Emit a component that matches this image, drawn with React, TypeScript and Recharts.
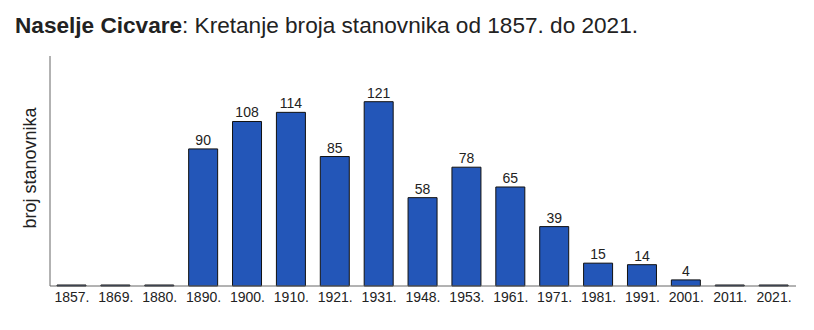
import { Bar, BarChart, LabelList, XAxis, YAxis } from "recharts";

const years = [
  "1857.", "1869.", "1880.", "1890.", "1900.", "1910.", "1921.", "1931.",
  "1948.", "1953.", "1961.", "1971.", "1981.", "1991.", "2001.", "2011.", "2021.",
];
const population = [0, 0, 0, 90, 108, 114, 85, 121, 58, 78, 65, 39, 15, 14, 4, 0, 0];

const data = years.map((year, i) => ({ year, value: population[i] }));

const font = "Arial, 'Liberation Sans', sans-serif";

export default function App() {
  return (
    <div style={{ position: "absolute", left: 0, top: 0, width: 814, height: 330, background: "#fff", fontFamily: font }}>
      <div style={{ position: "absolute", left: 15, top: 13, fontSize: 22.6, color: "#222", whiteSpace: "nowrap" }}>
        <b>Naselje Cicvare</b>: Kretanje broja stanovnika od 1857. do 2021.
      </div>
      <div
        style={{
          position: "absolute",
          left: 30,
          top: 168,
          transform: "translate(-50%, -50%) rotate(-90deg)",
          fontSize: 18,
          color: "#222",
          whiteSpace: "nowrap",
        }}
      >
        broj stanovnika
      </div>
      <BarChart
        width={814}
        height={330}
        data={data}
        margin={{ top: 56, right: 18, bottom: 14, left: 0 }}
        barCategoryGap={0}
        style={{ position: "absolute", left: 0, top: 0 }}
      >
        <XAxis
          dataKey="year"
          height={30}
          interval={0}
          tickLine={false}
          stroke="#666"
          tick={{ fill: "#222", fontSize: 14, fontFamily: font }}
          tickMargin={0}
        />
        <YAxis width={50} domain={[0, 151]} tick={false} tickLine={false} stroke="#666" />
        <Bar
          dataKey="value"
          fill="#2356b8"
          stroke="#111"
          strokeWidth={1}
          barSize={29}
          minPointSize={1}
          isAnimationActive={false}
        >
          <LabelList
            dataKey="value"
            position="top"
            offset={4}
            formatter={(v: any) => (v ? `${v}` : "")}
            fontSize={14}
            fill="#222"
            fontFamily={font}
          />
        </Bar>
      </BarChart>
    </div>
  );
}
